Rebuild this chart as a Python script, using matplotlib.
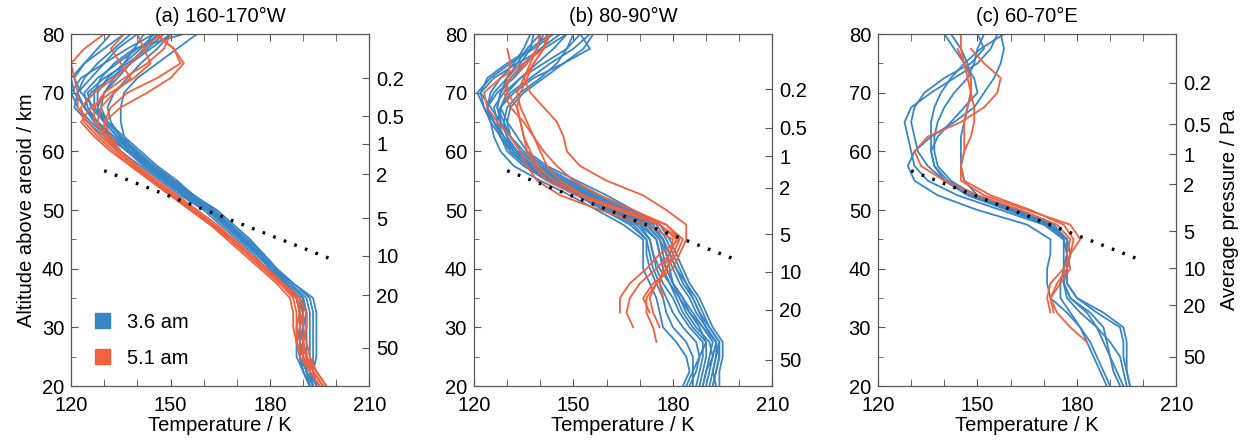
import matplotlib

matplotlib.use("Agg")
import matplotlib.pyplot as plt
import numpy as np
from matplotlib.patches import Patch

plt.rcParams["font.family"] = ["Liberation Sans", "DejaVu Sans"]

nan = np.nan

# altitude levels (km) at which every profile is read
ALT = [20, 22.5, 25, 27.5, 30, 32.5, 35, 37.5, 40, 42.5, 45, 47.5, 50,
       52.5, 55, 57.5, 60, 62.5, 65, 67.5, 70, 72.5, 75, 77.5, 80]

# (a) 160-170W
A_BLUE = [
    [193, 191, 190, 190, 189, 189, 188, 184, 180, 176, 172, 167, 162, 155, 149, 143, 138, 133, 128, 124, 122, 124, 128, 133, 138],
    [194, 193, 194, 194, 194, 194, 193, 187, 182, 178, 174, 169, 164, 157, 151, 145, 140, 135, 131, 127, 123, 121, 124, 130, 136],
    [192, 190, 188, 188, 189, 190, 190, 186, 181, 177, 173, 168, 163, 156, 150, 144, 139, 136, 135, 135, 136, 140, 146, 152, 158],
    [193, 191, 189, 188, 188, 189, 188, 184, 180, 176, 171, 166, 161, 154, 148, 142, 137, 132, 127, 124, 126, 132, 138, 144, 150],
    [192, 190, 189, 189, 190, 191, 189, 185, 180, 176, 171, 167, 162, 155, 149, 143, 137, 131, 126, 122, 120, 123, 130, 137, 145],
    [193, 192, 191, 190, 190, 190, 188, 185, 181, 178, 173, 168, 163, 157, 151, 145, 139, 134, 130, 128, 130, 134, 138, 142, 146],
    [194, 193, 192, 192, 192, 192, 191, 186, 181, 177, 172, 167, 161, 154, 148, 142, 137, 132, 128, 125, 124, 128, 134, 140, 147],
    [192, 190, 189, 190, 191, 191, 189, 184, 179, 175, 170, 165, 160, 153, 147, 141, 135, 130, 125, 121, 122, 126, 130, 134, 140],
    [193, 191, 190, 189, 189, 190, 189, 185, 180, 177, 172, 167, 163, 156, 150, 144, 139, 134, 130, 126, 125, 130, 137, 143, 148],
    [194, 192, 191, 191, 191, 191, 190, 186, 182, 178, 173, 168, 163, 157, 152, 146, 141, 136, 131, 128, 128, 131, 136, 141, 145],
    [193, 191, 190, 189, 189, 189, 188, 184, 180, 176, 171, 166, 161, 154, 149, 143, 138, 133, 128, 124, 121, 120, 124, 128, 132],
    [192, 191, 190, 190, 190, 190, 189, 185, 181, 177, 172, 168, 163, 157, 151, 145, 140, 135, 131, 129, 130, 133, 136, 139, 142],
    [193, 192, 191, 190, 190, 191, 190, 186, 181, 177, 172, 167, 162, 155, 150, 144, 138, 134, 130, 127, 127, 129, 133, 139, 154],
    [194, 193, 193, 193, 193, 193, 192, 187, 182, 178, 173, 168, 163, 156, 150, 144, 139, 135, 132, 131, 133, 137, 141, 146, 150],
]
A_RED = [
    [196, 193, 191, 190, 189, 190, 188, 183, 178, 173, 168, 163, 157, 151, 145, 140, 135, 131, 127, 127, 130, 136, 143, 148, 150],
    [197, 194, 191, 189, 188, 188, 187, 183, 178, 173, 168, 162, 156, 150, 144, 138, 133, 128, 124, 123, 127, 133, 138, 142, 147],
    [195, 192, 190, 190, 191, 191, 189, 184, 179, 174, 169, 163, 157, 151, 145, 139, 134, 130, 130, 135, 143, 150, 154, 151, 146],
    [196, 193, 190, 188, 187, 187, 186, 182, 177, 172, 167, 162, 156, 150, 144, 139, 134, 129, 125, 122, 122, 121, 120, 124, 130],
    [197, 194, 192, 191, 190, 190, 188, 183, 179, 174, 169, 164, 158, 152, 146, 140, 135, 132, 130, 132, 137, 146, 153, 151, 145],
    [195, 192, 189, 188, 188, 189, 188, 184, 179, 174, 169, 163, 157, 151, 145, 139, 134, 130, 128, 129, 133, 138, 135, 132, 136],
    [196, 193, 191, 190, 189, 189, 188, 183, 178, 173, 168, 162, 156, 150, 144, 138, 132, 127, 123, 126, 132, 139, 144, 142, 140],
]

# (b) 80-90W
B_BLUE = [
    [183, 185, 184, 181, 177, 176, 175, 173, 171, 171, 171, 165, 157, 149, 140, 132, 128, 126, 125, 124, 126, 130, 134, 137, 138],
    [194, 194, 195, 195, 192, 190, 188, 185, 183, 181, 179, 176, 168, 160, 151, 142, 136, 133, 130, 128, 131, 137, 143, 150, 155],
    [186, 186, 186, 184, 180, 178, 177, 175, 173, 172, 172, 168, 160, 152, 144, 136, 131, 128, 127, 128, 132, 138, 147, 155, 152],
    [192, 193, 194, 193, 190, 187, 185, 182, 180, 178, 177, 174, 166, 157, 148, 140, 134, 131, 128, 125, 122, 124, 130, 137, 143],
    [185, 187, 188, 187, 183, 180, 178, 176, 174, 173, 172, 167, 159, 151, 142, 135, 130, 128, 128, 128, 130, 134, 139, 144, 148],
    [189, 190, 192, 193, 190, 188, 186, 183, 181, 179, 177, 173, 164, 155, 146, 138, 133, 129, 126, 123, 121, 125, 131, 138, 144],
    [193, 192, 193, 194, 191, 188, 186, 184, 182, 180, 178, 175, 167, 158, 149, 141, 135, 131, 129, 127, 128, 131, 135, 140, 146],
    [187, 188, 189, 189, 185, 182, 180, 177, 175, 174, 173, 169, 161, 152, 143, 136, 131, 129, 127, 126, 129, 134, 141, 148, 152],
    [191, 192, 193, 193, 189, 185, 183, 180, 178, 177, 176, 172, 164, 155, 146, 138, 132, 129, 126, 124, 125, 128, 132, 135, 137],
    [188, 189, 190, 190, 186, 183, 181, 179, 177, 176, 175, 171, 162, 153, 144, 137, 132, 130, 129, 130, 134, 140, 145, 148, 150],
    [190, 191, 192, 191, 187, 184, 182, 180, 179, 178, 176, 172, 163, 154, 145, 138, 133, 130, 128, 127, 128, 130, 133, 136, 140],
    [184, 186, 188, 190, 188, 185, 182, 179, 176, 174, 173, 170, 161, 152, 143, 136, 131, 128, 125, 123, 122, 126, 133, 141, 148],
    [192, 193, 194, 194, 191, 189, 187, 184, 181, 179, 177, 173, 165, 156, 147, 139, 134, 131, 130, 131, 135, 141, 147, 153, 156],
    [189, 190, 191, 192, 189, 186, 183, 180, 178, 176, 175, 170, 162, 153, 144, 137, 132, 128, 126, 124, 127, 132, 136, 139, 141],
]
B_RED = [
    [nan, nan, nan, nan, nan, 173, 171, 174, 180, 182, 184, 184, 178, 171, 160, 152, 148, 147, 145, 141, 137, 135, 137, 139, 140],
    [nan, nan, nan, nan, nan, 164, 164, 167, 172, 176, 182, 178, 165, 153, 144, 139, 137, 135, 134, 133, 134, 136, 138, 141, 142],
    [nan, nan, nan, nan, 168, 166, 167, 170, 175, 179, 181, 176, 164, 153, 146, 142, 140, 138, 135, 131, 129, 131, 136, 139, 140],
    [nan, nan, nan, 175, 174, 172, 172, 175, 178, 181, 183, 178, 168, 158, 150, 145, 141, 138, 136, 134, 133, 135, 138, 141, 142],
    [nan, nan, nan, nan, 176, 174, 173, 175, 178, 180, 182, 176, 163, 151, 142, 138, 136, 135, 134, 133, 130, 130, 131, 130, nan],
    [nan, nan, nan, nan, nan, nan, 177, 176, 177, 179, 180, 172, 158, 146, 139, 136, 134, 131, 127, 124, 123, 128, 135, 141, 143],
]

# (c) 60-70E
C_BLUE = [
    [190, 188, 186, 184, 181, 177, 172, 171, 171, 172, 172, 165, 150, 138, 131, 129, 131, 136, 143, 149, 152, 155, 157, 158, 157],
    [189, 187, 185, 183, 181, 178, 175, 175, 176, 177, 176, 170, 157, 144, 135, 131, 130, 129, 128, 130, 136, 143, 150, 154, 156],
    [196, 195, 194, 194, 193, 186, 180, 177, 177, 178, 177, 172, 160, 148, 140, 135, 132, 131, 130, 131, 134, 140, 148, 152, 150],
    [195, 194, 193, 190, 186, 181, 177, 176, 176, 177, 176, 172, 161, 150, 146, 145, 145, 145, 146, 147, 148, 148, 147, 145, 142],
    [194, 192, 190, 188, 186, 183, 178, 176, 176, 176, 176, 171, 160, 149, 142, 138, 137, 137, 138, 140, 143, 147, 149, 150, 152],
    [196, 195, 195, 195, 194, 188, 180, 177, 177, 178, 177, 171, 159, 147, 140, 137, 136, 136, 136, 137, 139, 142, 146, 151, 158],
    [193, 191, 190, 189, 188, 184, 178, 176, 177, 177, 177, 173, 162, 150, 141, 137, 136, 138, 142, 146, 150, 149, 146, 143, 140],
]
C_RED = [
    [nan, nan, nan, nan, nan, 172, 171, 172, 176, 178, 181, 178, 165, 152, 145, 145, 146, 146, 146, 147, 148, 148, 146, 145, 145],
    [nan, nan, nan, 183, 178, 174, 172, 175, 178, 177, 178, 174, 163, 150, 140, 133, 131, 135, 145, 152, 156, 157, 152, 148, nan],
    [nan, nan, nan, nan, nan, 173, 172, 174, 177, 178, 179, 176, 166, 154, 146, 145, 146, 148, 149, 149, 148, 147, 146, 144, nan],
]

# dotted reference line (same in every panel)
REF_T = [130, 200]
REF_ALT = [56.7, 41.3]

TITLES = ["(a) 160-170°W", "(b) 80-90°W", "(c) 60-70°E"]

# average-pressure ticks (Pa) and the altitude each sits at, per panel
P_LABELS = ["0.2", "0.5", "1", "2", "5", "10", "20", "50"]
P_ALT = [
    [72.5, 66.0, 61.3, 56.1, 48.6, 42.2, 35.5, 26.5],
    [70.6, 64.0, 59.2, 53.8, 45.9, 39.5, 33.0, 24.5],
    [71.7, 64.6, 59.5, 54.4, 46.4, 40.1, 33.8, 25.0],
]

BLUE = "#3a86c4"
RED = "#f2613f"
SPINE = "#555555"
FS = 14.5

fig = plt.figure(figsize=(12.55, 4.44), dpi=100)
lefts = [0.0566, 0.3777, 0.6996]
panels = [(A_BLUE, A_RED), (B_BLUE, B_RED), (C_BLUE, C_RED)]

for i, (blues, reds) in enumerate(panels):
    ax = fig.add_axes([lefts[i], 0.1306, 0.2378, 0.7928])
    for prof in blues:
        ax.plot(prof, ALT, color=BLUE, lw=1.3, solid_capstyle="round")
    for prof in reds:
        ax.plot(prof, ALT, color=RED, lw=1.3, solid_capstyle="round")
    ax.plot(REF_T, REF_ALT, color="black", lw=2.4, linestyle=(0, (0.8, 2.6)),
            dash_capstyle="butt")

    ax.set_xlim(120, 210)
    ax.set_ylim(20, 80)
    ax.set_xticks([120, 150, 180, 210])
    ax.set_xticks(range(120, 211, 10), minor=True)
    ax.set_yticks([20, 30, 40, 50, 60, 70, 80])
    ax.set_yticks(range(20, 81, 5), minor=True)
    ax.tick_params(which="both", direction="in", top=True, right=False,
                   labelsize=FS, color=SPINE)
    ax.tick_params(axis="x", which="both", pad=7.5)
    ax.tick_params(axis="y", which="both", pad=5)
    ax.tick_params(which="major", length=5)
    ax.tick_params(which="minor", length=5)
    ax.tick_params(axis="y", which="minor", length=3.5)
    for spine in ax.spines.values():
        spine.set_color(SPINE)
    ax.set_title(TITLES[i], fontsize=FS, pad=9)
    ax.set_xlabel("Temperature / K", fontsize=FS, labelpad=0.5)
    if i == 0:
        ax.set_ylabel("Altitude above areoid / km", fontsize=FS, labelpad=4)
        handles = [Patch(color=BLUE, label="3.6 am"), Patch(color=RED, label="5.1 am")]
        ax.legend(handles=handles, loc="lower left", frameon=False, fontsize=FS,
                  handlelength=0.75, handleheight=0.75, labelspacing=0.85,
                  handletextpad=0.85, bbox_to_anchor=(0.02, 0.0))

    ax2 = ax.twinx()
    ax2.set_ylim(20, 80)
    ax2.set_yticks(P_ALT[i])
    ax2.set_yticklabels(P_LABELS)
    ax2.tick_params(direction="in", length=5, labelsize=FS, color=SPINE, pad=5)
    for spine in ax2.spines.values():
        spine.set_color(SPINE)
    if i == 2:
        ax2.set_ylabel("Average pressure / Pa", fontsize=FS, labelpad=6)

fig.savefig("out.png", dpi=100)
